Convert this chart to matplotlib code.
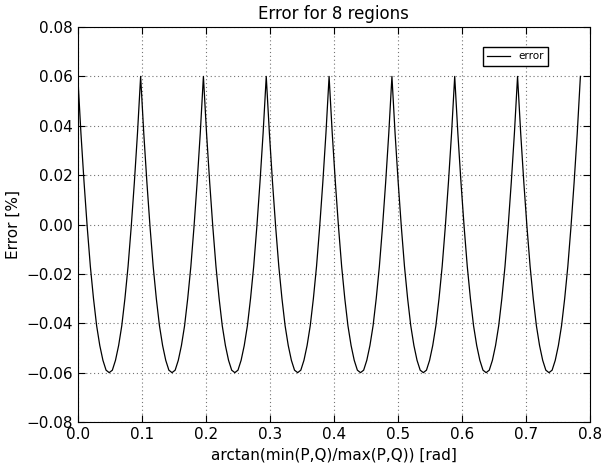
import matplotlib
matplotlib.use('Agg')
import matplotlib.pyplot as plt
import numpy as np

# region boundaries along the angle axis [rad]
edges = [0.0, 0.0982, 0.1963, 0.2945, 0.3927, 0.4909, 0.5890, 0.6872, 0.7854]

# error profile within one region, position as fraction of region width
profile_t = [0.0, 0.05, 0.10, 0.15, 0.20, 0.25, 0.30, 0.35, 0.40, 0.45, 0.50,
             0.55, 0.60, 0.65, 0.70, 0.75, 0.80, 0.85, 0.90, 0.95, 1.0]
profile_err = [0.060, 0.037, 0.017, -0.001, -0.017, -0.030, -0.041, -0.049, -0.055, -0.059, -0.060,
               -0.059, -0.055, -0.049, -0.041, -0.030, -0.017, -0.001, 0.017, 0.037, 0.060]

xs = []
ys = []
for i in range(len(edges) - 1):
    w = edges[i+1] - edges[i]
    for t, e in zip(profile_t, profile_err):
        xs.append(edges[i] + t*w)
        ys.append(e)

fig = plt.figure(figsize=(6.03, 4.66), dpi=100)
ax = fig.add_axes([0.129, 0.0944, 0.849, 0.8476])
ax.plot(xs, ys, c='black', lw=0.9, label='error')

ax.set_xlim(0, 0.8)
ax.set_ylim(-0.08, 0.08)
ax.set_xticks(np.arange(0, 0.81, 0.1))
ax.set_yticks(np.arange(-0.08, 0.081, 0.02))
ax.grid(True, linestyle=(0, (1, 2.5)), color='0.45', lw=0.8)
ax.tick_params(direction='in', top=True, right=True, labelsize=11, length=5)
ax.set_xlabel('arctan(min(P,Q)/max(P,Q)) [rad]', fontsize=11)
ax.set_ylabel('Error [%]', fontsize=11)
ax.set_title('Error for 8 regions', fontsize=12)

leg = ax.legend(loc='upper right', bbox_to_anchor=(0.918, 0.949), borderaxespad=0,
                fontsize=7.5, fancybox=False, framealpha=1, handlelength=2.2)
leg.get_frame().set_edgecolor('black')

fig.savefig('out.png', dpi=100)
